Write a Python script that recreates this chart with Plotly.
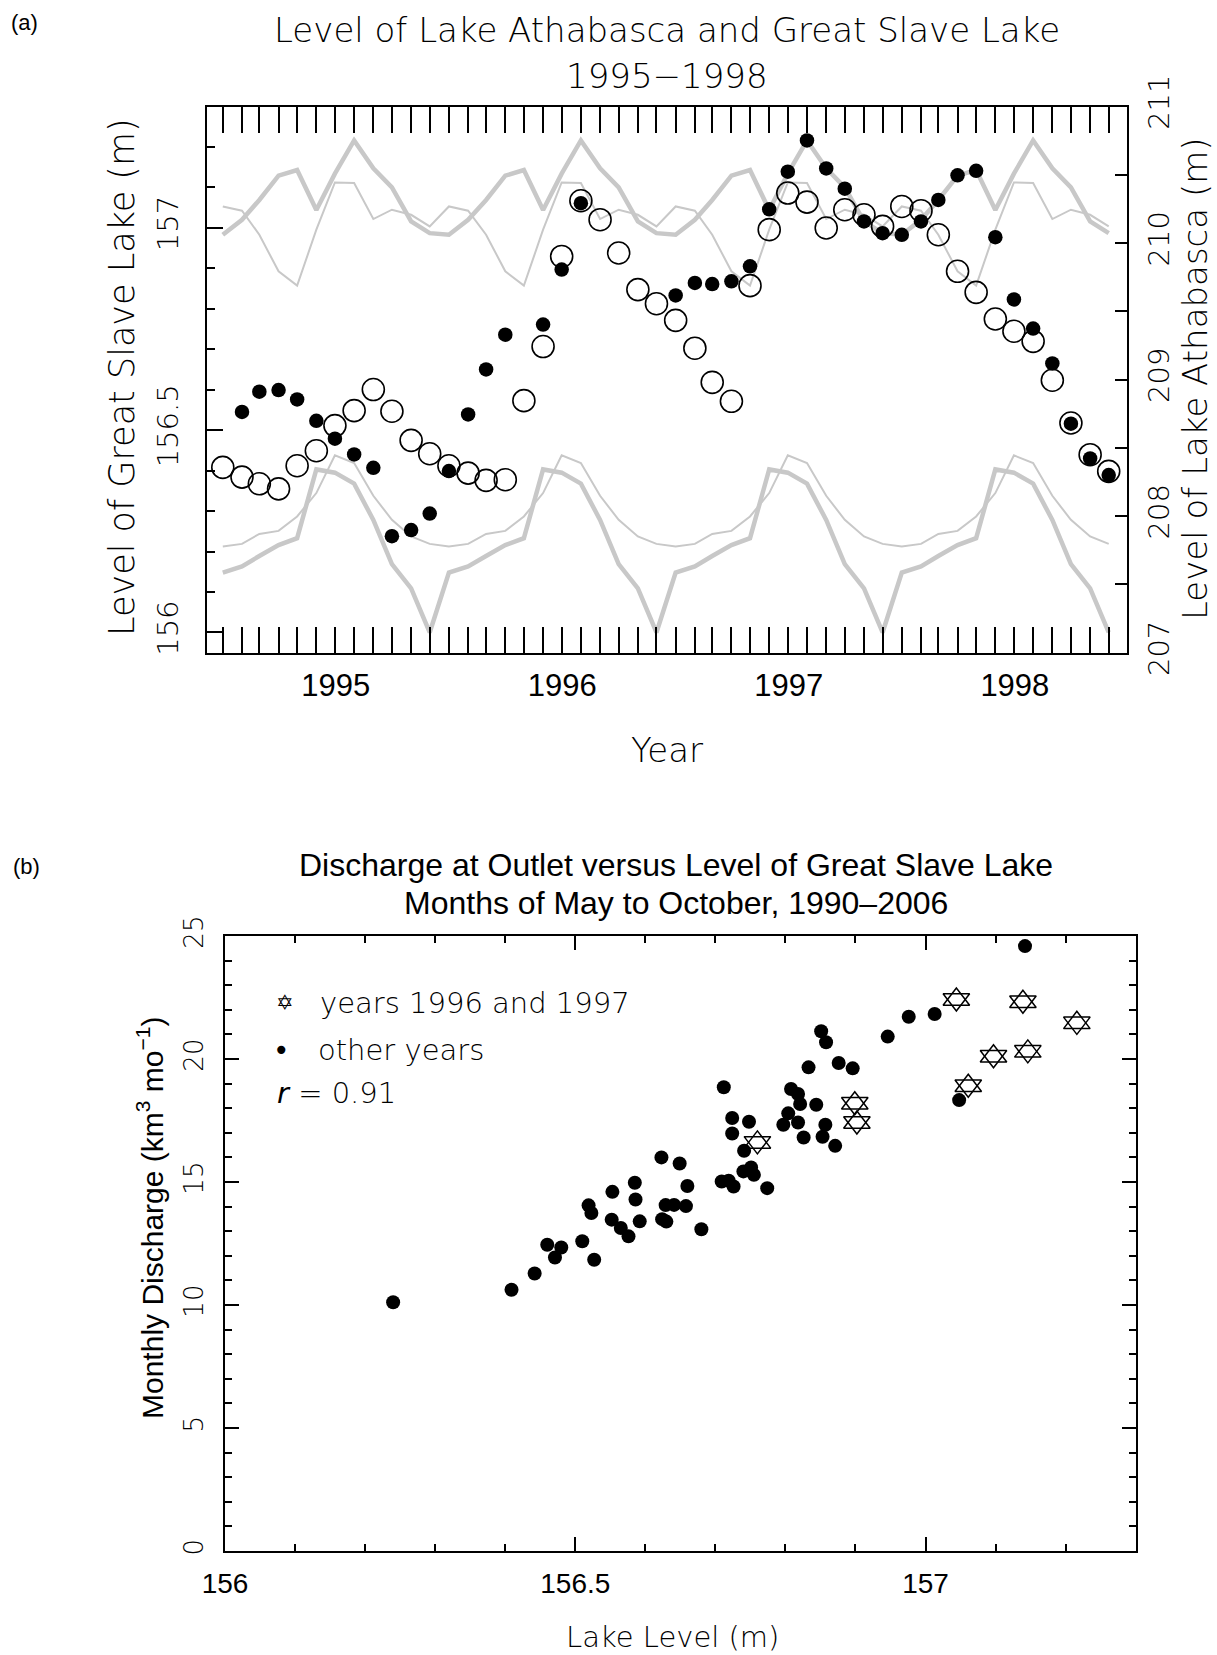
import plotly.graph_objects as go

W, H = 1217, 1655

# ---------------- Panel (a): monthly levels, Jan 1995 to Dec 1998 ----------------
month_dates = [f"{1995 + i // 12}-{i % 12 + 1:02d}-01" for i in range(48)]

# Great Slave Lake, record monthly maximum (thick grey, left axis)
gsl_record_max = [156.983, 157.020, 157.069, 157.129, 157.143, 157.044, 157.134, 157.216, 157.147, 157.100, 157.016, 156.987,
                  156.983, 157.020, 157.069, 157.129, 157.143, 157.044, 157.134, 157.216, 157.147, 157.100, 157.016, 156.987,
                  156.983, 157.020, 157.069, 157.129, 157.143, 157.044, 157.134, 157.216, 157.147, 157.100, 157.016, 156.987,
                  156.983, 157.020, 157.069, 157.129, 157.143, 157.044, 157.134, 157.216, 157.147, 157.100, 157.016, 156.987]
# Great Slave Lake, record monthly minimum (thick grey, left axis)
gsl_record_min = [156.148, 156.163, 156.189, 156.216, 156.233, 156.403, 156.395, 156.368, 156.278, 156.169, 156.109, 156.000,
                  156.148, 156.163, 156.189, 156.216, 156.233, 156.403, 156.395, 156.368, 156.278, 156.169, 156.109, 156.000,
                  156.148, 156.163, 156.189, 156.216, 156.233, 156.403, 156.395, 156.368, 156.278, 156.169, 156.109, 156.000,
                  156.148, 156.163, 156.189, 156.216, 156.233, 156.403, 156.395, 156.368, 156.278, 156.169, 156.109, 156.000]
# Lake Athabasca, record monthly maximum (thin grey, right axis)
ath_record_max = [210.268, 210.237, 210.061, 209.793, 209.688, 210.098, 210.444, 210.439, 210.176, 210.244, 210.207, 210.122,
                  210.268, 210.237, 210.061, 209.793, 209.688, 210.098, 210.444, 210.439, 210.176, 210.244, 210.207, 210.122,
                  210.268, 210.237, 210.061, 209.793, 209.688, 210.098, 210.444, 210.439, 210.176, 210.244, 210.207, 210.122,
                  210.268, 210.237, 210.061, 209.793, 209.688, 210.098, 210.444, 210.439, 210.176, 210.244, 210.207, 210.122]
# Lake Athabasca, record monthly minimum (thin grey, right axis)
ath_record_min = [207.778, 207.797, 207.870, 207.892, 207.998, 208.169, 208.445, 208.389, 208.149, 207.973, 207.851, 207.797,
                  207.778, 207.797, 207.870, 207.892, 207.998, 208.169, 208.445, 208.389, 208.149, 207.973, 207.851, 207.797,
                  207.778, 207.797, 207.870, 207.892, 207.998, 208.169, 208.445, 208.389, 208.149, 207.973, 207.851, 207.797,
                  207.778, 207.797, 207.870, 207.892, 207.998, 208.169, 208.445, 208.389, 208.149, 207.973, 207.851, 207.797]
# Great Slave Lake observed level (filled dots, left axis)
gsl_level = [None, 156.545, 156.595, 156.599, 156.576, 156.523, 156.479, 156.440, 156.407, 156.238, 156.253, 156.294,
             156.399, 156.539, 156.650, 156.736, None, 156.761, 156.897, 157.061, None, None, None, None,
             156.833, 156.864, 156.861, 156.868, 156.905, 157.046, 157.139, 157.216, 157.147, 157.097, 157.016, 156.987,
             156.983, 157.016, 157.069, 157.130, 157.141, 156.977, 156.823, 156.751, 156.665, 156.516, 156.430, 156.389]
# Lake Athabasca observed level (open circles, right axis)
ath_level = [208.357, 208.286, 208.237, 208.200, 208.369, 208.479, 208.663, 208.773, 208.927, 208.768, 208.555, 208.457,
             208.369, 208.315, 208.262, 208.267, 208.846, 209.242, 209.902, 210.310, 210.171, 209.927, 209.659, 209.556,
             209.434, 209.230, 208.980, 208.841, 209.688, 210.098, 210.366, 210.300, 210.110, 210.244, 210.207, 210.122,
             210.268, 210.237, 210.061, 209.793, 209.639, 209.444, 209.354, 209.280, 208.995, 208.682, 208.450, 208.328]

gsl_tick_vals = [156, 156.5, 157]
gsl_tick_text = ["156", "156.5", "157"]
ath_tick_vals = [207, 208, 209, 210, 211]
ath_tick_text = ["207", "208", "209", "210", "211"]

# ---------------- Panel (b): discharge vs lake level ----------------
lake_other = [156.240, 156.409, 156.442, 156.460, 156.471, 156.480, 156.510, 156.527, 156.519, 156.523,
              156.553, 156.552, 156.565, 156.576, 156.585, 156.586, 156.592, 156.623, 156.649, 156.660,
              156.629, 156.641, 156.658, 156.624, 156.630, 156.680, 156.712, 156.724, 156.748, 156.724,
              156.741, 156.740, 156.751, 156.755, 156.774, 156.709, 156.719, 156.726, 156.808, 156.818,
              156.821, 156.844, 156.804, 156.797, 156.818, 156.826, 156.857, 156.853, 156.871, 156.833,
              156.851, 156.858, 156.876, 156.896, 156.946, 156.976, 157.013, 157.048, 157.142]
q_other = [10.11, 10.62, 11.28, 12.45, 11.93, 12.34, 12.59, 11.84, 14.05, 13.74,
           14.60, 13.47, 13.13, 12.79, 14.97, 14.29, 13.40, 16.00, 15.75, 14.84,
           14.06, 14.07, 14.02, 13.49, 13.39, 13.08, 18.85, 17.60, 17.45, 16.97,
           16.27, 15.43, 15.59, 15.29, 14.75, 15.02, 15.05, 14.82, 18.78, 18.58,
           18.17, 18.14, 17.79, 17.33, 17.42, 16.81, 17.33, 16.84, 16.47, 19.66,
           21.13, 20.68, 19.84, 19.62, 20.91, 21.72, 21.83, 18.33, 24.59]
lake_9697 = [157.044, 157.139, 157.216, 157.097, 157.146, 157.061, 156.899, 156.902, 156.760]
q_9697 = [22.42, 22.33, 21.47, 20.11, 20.31, 18.91, 18.20, 17.42, 16.61]

q_tick_vals = [0, 5, 10, 15, 20, 25]
lake_tick_vals = [156, 156.5, 157]
lake_tick_text = ["156", "156.5", "157"]

# ---------------- styling ----------------
HERSHEY = "DejaVu Sans"
ARIAL = "Liberation Sans, Arial, sans-serif"
GRAY = "#c8c8c8"
LIGHT = 300

fig = go.Figure()
fig.add_trace(go.Scatter(x=month_dates, y=gsl_record_max, mode="lines", line=dict(color=GRAY, width=4.5),
                         xaxis="x", yaxis="y", hoverinfo="skip"))
fig.add_trace(go.Scatter(x=month_dates, y=gsl_record_min, mode="lines", line=dict(color=GRAY, width=4.5),
                         xaxis="x", yaxis="y", hoverinfo="skip"))
fig.add_trace(go.Scatter(x=month_dates, y=ath_record_max, mode="lines", line=dict(color=GRAY, width=2),
                         xaxis="x", yaxis="y2", hoverinfo="skip"))
fig.add_trace(go.Scatter(x=month_dates, y=ath_record_min, mode="lines", line=dict(color=GRAY, width=2),
                         xaxis="x", yaxis="y2", hoverinfo="skip"))
fig.add_trace(go.Scatter(x=month_dates, y=ath_level, mode="markers",
                         marker=dict(symbol="circle-open", size=22, color="black", line=dict(width=1.6, color="black")),
                         xaxis="x", yaxis="y2"))
fig.add_trace(go.Scatter(x=month_dates, y=gsl_level, mode="markers",
                         marker=dict(symbol="circle", size=14.5, color="black"),
                         xaxis="x", yaxis="y3"))

fig.add_trace(go.Scatter(x=lake_other, y=q_other, mode="markers",
                         marker=dict(symbol="circle", size=14, color="black"), xaxis="x2", yaxis="y4"))
fig.add_trace(go.Scatter(x=lake_9697, y=q_9697, mode="markers",
                         marker=dict(symbol="triangle-up-open", size=23, color="black", line=dict(width=1.5, color="black")),
                         xaxis="x2", yaxis="y4"))
fig.add_trace(go.Scatter(x=lake_9697, y=q_9697, mode="markers",
                         marker=dict(symbol="triangle-down-open", size=23, color="black", line=dict(width=1.5, color="black")),
                         xaxis="x2", yaxis="y4"))

common = dict(ticks="inside", tickcolor="black", tickwidth=1.8, showgrid=False, zeroline=False,
              showline=True, linecolor="black", linewidth=2, automargin=False)


def minor(t0, dt, ln):
    return dict(tick0=t0, dtick=dt, ticks="inside", ticklen=ln, tickwidth=1.8,
                tickcolor="black", showgrid=False)


XA = [207.3 / W, 1127.3 / W]
YA = [1 - 652.7 / H, 1 - 106.5 / H]
XB = [225.0 / W, 1135.7 / W]
YB = [1 - 1551.0 / H, 1 - 936.0 / H]
XRANGE = ["1994-12-07", "1998-12-31"]
GRANGE = [155.95, 157.30]

fig.update_layout(
    width=W, height=H, margin=dict(l=0, r=0, t=0, b=0, pad=0), autosize=False,
    paper_bgcolor="white", plot_bgcolor="rgba(0,0,0,0)", showlegend=False,
    xaxis=dict(domain=XA, anchor="y", type="date", range=XRANGE, tick0="1995-01-01", dtick="M12",
               ticklabelmode="period", tickformat="%Y", ticklen=26, mirror="allticks",
               tickfont=dict(family=ARIAL, size=31, color="black"), ticklabelstandoff=4,
               minor=minor("1995-01-01", "M1", 13), **common),
    yaxis=dict(domain=YA, anchor="x", range=GRANGE, tickmode="array", tickvals=gsl_tick_vals,
               ticktext=gsl_tick_text, ticklen=16, tickangle=-90, ticklabelstandoff=16,
               tickfont=dict(family=HERSHEY, size=29, color="black", weight=LIGHT),
               minor=minor(156, 0.1, 8), **common),
    yaxis2=dict(overlaying="y", anchor="x", side="right", range=[207, 211], tickmode="array",
                tickvals=ath_tick_vals, ticktext=ath_tick_text, ticklen=12, tickangle=-90, ticklabelstandoff=5,
                tickfont=dict(family=HERSHEY, size=29, color="black", weight=LIGHT),
                minor=minor(207, 0.5, 12), **common),
    yaxis3=dict(overlaying="y", anchor="x", range=GRANGE, visible=False, automargin=False),
    xaxis2=dict(domain=XB, anchor="y4", range=[156, 157.3], tickmode="array", tickvals=lake_tick_vals,
                ticktext=lake_tick_text, ticklen=14, mirror="allticks", ticklabelstandoff=6,
                tickfont=dict(family=ARIAL, size=28, color="black"), minor=minor(156, 0.1, 7), **common),
    yaxis4=dict(domain=YB, anchor="x2", range=[0, 25], tickmode="array", tickvals=q_tick_vals, ticklen=14,
                mirror="allticks", tickangle=-90, ticklabelstandoff=10,
                tickfont=dict(family=HERSHEY, size=26, color="black", weight=LIGHT),
                minor=minor(0, 1, 7), **common),
)


def ann(text, px, py, size, family, angle=0, xanchor="center", weight=None):
    f = dict(family=family, size=size, color="black")
    if weight is not None:
        f["weight"] = weight
    return dict(text=text, x=px / W, y=1 - py / H, xref="paper", yref="paper", xanchor=xanchor,
                yanchor="middle", showarrow=False, textangle=angle, font=f)


anns = [
    ann("(a)", 24, 22, 22, ARIAL),
    ann("Level of Lake Athabasca and Great Slave Lake", 667, 30, 34, HERSHEY, weight=LIGHT),
    ann("1995\u22121998", 667, 76, 34, HERSHEY, weight=LIGHT),
    ann("Level of Great Slave Lake (m)", 122, 377, 35, HERSHEY, angle=-90, weight=LIGHT),
    ann("Level of Lake Athabasca (m)", 1195, 379, 34, HERSHEY, angle=-90, weight=LIGHT),
    ann("Year", 667, 750, 34, HERSHEY, weight=LIGHT),
    ann("(b)", 26, 866, 22, ARIAL),
    ann("Discharge at Outlet versus Level of Great Slave Lake", 676, 865, 32, ARIAL),
    ann("Months of May to October, 1990\u20132006", 676, 903, 32, ARIAL),
    ann("Monthly Discharge (km<sup>3</sup> mo<sup>\u22121</sup>)", 150, 1218, 30, ARIAL, angle=-90),
    ann("Lake Level (m)", 672, 1637, 29, HERSHEY, weight=LIGHT),
    ann("\u2721", 285, 1003, 21, HERSHEY),
    ann("years 1996 and 1997", 318, 1003, 29, HERSHEY, xanchor="left", weight=LIGHT),
    ann("\u2022", 281, 1050, 28, HERSHEY),
    ann("other years", 316, 1050, 29, HERSHEY, xanchor="left", weight=LIGHT),
    ann("<i>r</i> = 0.91", 275, 1093, 29, HERSHEY, xanchor="left", weight=LIGHT),
]
fig.update_layout(annotations=anns)

fig.write_html("out.html", config={"displayModeBar": False})
